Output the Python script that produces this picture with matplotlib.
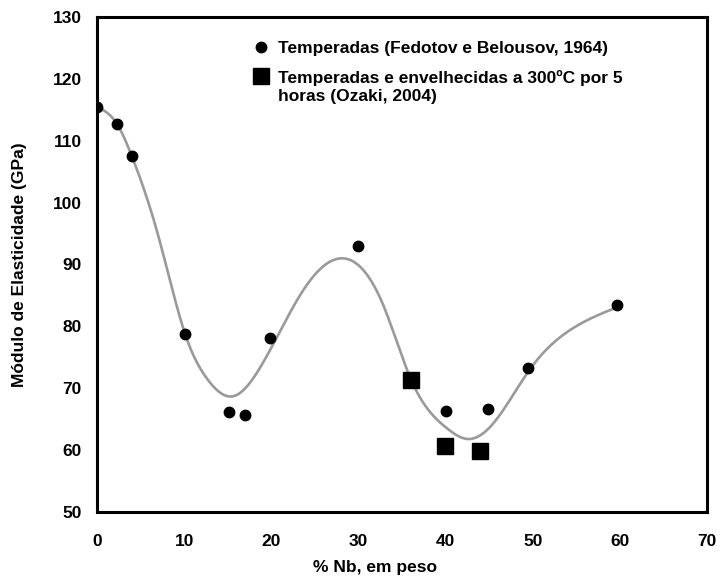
import numpy as np
import matplotlib
matplotlib.use("Agg")
import matplotlib.pyplot as plt
from matplotlib.lines import Line2D

plt.rcParams['font.family'] = ['Liberation Sans', 'DejaVu Sans']
plt.rcParams['font.weight'] = 'bold'

# Quenched alloys (Fedotov e Belousov, 1964)
nb_quenched = [0.0, 2.3, 4.0, 10.1, 15.1, 17.0, 19.9, 29.9, 40.0, 44.9, 49.5, 59.7]
e_quenched = [115.5, 112.7, 107.6, 78.7, 66.2, 65.7, 78.2, 93.0, 66.4, 66.6, 73.3, 83.4]

# Quenched and aged at 300 ºC for 5 h (Ozaki, 2004)
nb_aged = [36.0, 39.9, 43.9]
e_aged = [71.3, 60.7, 59.8]

# Hand-drawn trend curve (control points)
trend_x = [0.0, 2.3, 4.0, 7.0, 10.2, 12.6, 15.6, 18.7, 23.6, 28.2, 32.8, 36.1,
           40.1, 42.5, 45.4, 49.7, 54.5, 59.7]
trend_y = [115.5, 112.7, 107.5, 94.8, 78.4, 71.6, 68.7, 73.3, 85.7, 91.0, 83.6, 71.2,
           63.6, 61.8, 64.2, 73.1, 79.6, 83.1]

x_ticks = [0, 10, 20, 30, 40, 50, 60, 70]
y_ticks = [50, 60, 70, 80, 90, 100, 110, 120, 130]

FS = 12.5


def natural_cubic_spline(xs, ys, n=600):
    """C2-smooth curve through the control points."""
    x = np.asarray(xs, float)
    y = np.asarray(ys, float)
    k = len(x)
    h = np.diff(x)
    A = np.zeros((k, k))
    r = np.zeros(k)
    A[0, 0] = A[-1, -1] = 1.0
    for i in range(1, k - 1):
        A[i, i - 1] = h[i - 1]
        A[i, i] = 2 * (h[i - 1] + h[i])
        A[i, i + 1] = h[i]
        r[i] = 6 * ((y[i + 1] - y[i]) / h[i] - (y[i] - y[i - 1]) / h[i - 1])
    m = np.linalg.solve(A, r)
    xx = np.linspace(x[0], x[-1], n)
    j = np.clip(np.searchsorted(x, xx) - 1, 0, k - 2)
    dx0 = xx - x[j]
    dx1 = x[j + 1] - xx
    hj = h[j]
    yy = (m[j] * dx1 ** 3 / (6 * hj) + m[j + 1] * dx0 ** 3 / (6 * hj)
          + (y[j] / hj - m[j] * hj / 6) * dx1 + (y[j + 1] / hj - m[j + 1] * hj / 6) * dx0)
    return xx, yy


fig = plt.figure(figsize=(7.2, 5.79), dpi=100)
ax = fig.add_axes([97 / 720, (579 - 512) / 579, (707 - 97) / 720, (512 - 17) / 579])

cx, cy = natural_cubic_spline(trend_x, trend_y)
ax.plot(cx, cy, color='#9a9a9a', lw=1.9, zorder=2, solid_capstyle='round')

ax.plot(nb_quenched, e_quenched, 'o', color='black', ms=7.5, zorder=3)
ax.plot(nb_aged, e_aged, 's', color='black', ms=11, zorder=3)

ax.set_xlim(0, 70)
ax.set_ylim(50, 130)
ax.set_xticks(x_ticks)
ax.set_yticks(y_ticks)
ax.tick_params(axis='both', length=0, labelsize=FS)
ax.tick_params(axis='x', pad=16)
ax.tick_params(axis='y', pad=11)
for s in ax.spines.values():
    s.set_linewidth(2.2)
    s.set_color('black')

ax.set_xlabel('% Nb, em peso', fontsize=FS, fontweight='bold')
ax.xaxis.set_label_coords(0.456, -0.097)
ax.set_ylabel('Módulo de Elasticidade (GPa)', fontsize=FS, fontweight='bold')
ax.yaxis.set_label_coords(-0.115, 0.5)

handles = [
    Line2D([], [], marker='o', ls='none', color='black', ms=7.5),
    Line2D([], [], marker='s', ls='none', color='black', ms=11),
]
labels = ['Temperadas (Fedotov e Belousov, 1964)',
          'Temperadas e envelhecidas a 300ºC por 5\nhoras (Ozaki, 2004)']
leg = ax.legend(handles, labels, loc='upper left', bbox_to_anchor=(0.251, 0.951),
                frameon=False, handletextpad=0.4, handlelength=1.2,
                labelspacing=0.8, borderpad=0, borderaxespad=0,
                prop={'weight': 'bold', 'size': FS})
for t in leg.get_texts():
    t.set_linespacing(1.2)
# keep the square key level with the first line of its two-line label
sq = leg.legend_handles[1]
sq.set_ydata(np.asarray(sq.get_ydata(), dtype=float) + 0.65 * FS)

fig.savefig('out.png', dpi=100)
